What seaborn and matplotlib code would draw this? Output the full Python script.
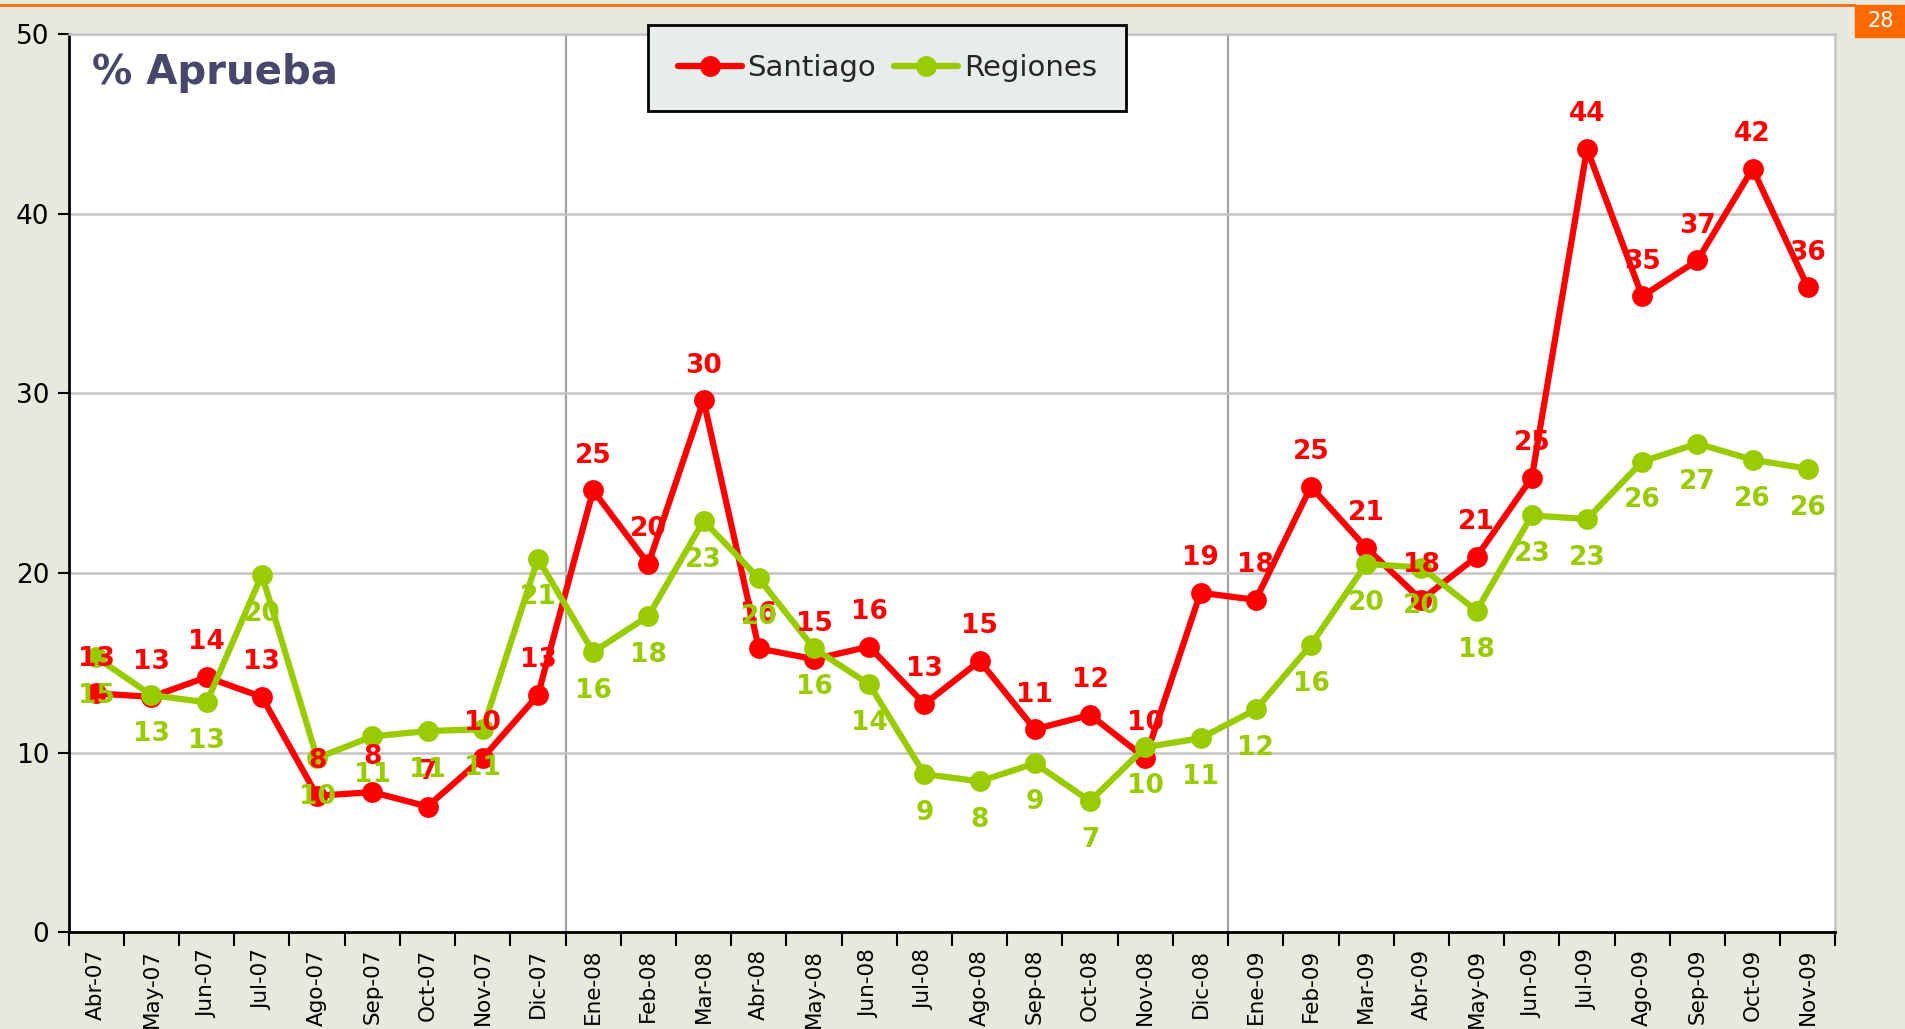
# encuesta: % aprueba, Santiago vs Regiones
import seaborn as sns
import pandas as pd
import matplotlib.pyplot as plotter
from matplotlib.lines import Line2D
from matplotlib.patches import Rectangle


meses = [
    "Abr-07", "May-07", "Jun-07", "Jul-07", "Ago-07", "Sep-07", "Oct-07",
    "Nov-07", "Dic-07", "Ene-08", "Feb-08", "Mar-08", "Abr-08", "May-08",
    "Jun-08", "Jul-08", "Ago-08", "Sep-08", "Oct-08", "Nov-08", "Dic-08",
    "Ene-09", "Feb-09", "Mar-09", "Abr-09", "May-09", "Jun-09", "Jul-09",
    "Ago-09", "Sep-09", "Oct-09", "Nov-09"
]

santiago = [
    13.3, 13.1, 14.2, 13.1, 7.6, 7.8, 7.0, 9.7, 13.2, 24.6, 20.5, 29.6,
    15.8, 15.2, 15.9, 12.7, 15.1, 11.3, 12.1, 9.7, 18.9, 18.5, 24.8, 21.4,
    18.5, 20.9, 25.3, 43.6, 35.4, 37.4, 42.5, 35.9
]

regiones = [
    15.3, 13.2, 12.8, 19.9, 9.7, 10.9, 11.2, 11.3, 20.8, 15.6, 17.6, 22.9,
    19.7, 15.8, 13.8, 8.8, 8.4, 9.4, 7.3, 10.3, 10.8, 12.4, 16.0, 20.5,
    20.3, 17.9, 23.2, 23.0, 26.2, 27.2, 26.3, 25.8
]

series = ["Santiago", "Regiones"]
colores = {"Santiago": "#FF0000", "Regiones": "#99CC00"}
fondo = "#E8E8DC"

y_ticks = [0, 10, 20, 30, 40, 50]


def armar_tabla() -> pd.DataFrame:
    filas = []
    for i, mes in enumerate(meses):
        filas.append({"pos": i, "mes": mes, "serie": "Santiago", "valor": santiago[i]})
        filas.append({"pos": i, "mes": mes, "serie": "Regiones", "valor": regiones[i]})
    return pd.DataFrame(filas)


datos = armar_tabla()

sns.set_theme(style="white")
plotter.rcParams['font.family'] = ['DejaVu Sans']

fig = plotter.figure(figsize=(19.06, 10.29), dpi=100, facecolor=fondo)
ax = fig.add_axes([0.036, 0.094, 0.927, 0.873])
ax.set_facecolor("white")

sns.lineplot(data=datos, x="pos", y="valor", hue="serie", hue_order=series,
             palette=colores, marker="o", markersize=15, linewidth=4.5,
             markeredgewidth=0, ax=ax, legend=True)

# etiquetas de datos: Santiago arriba, Regiones abajo
for i in range(len(meses)):
    ax.annotate(f"{santiago[i]:.0f}", (i, santiago[i]), xytext=(0, 25),
                textcoords="offset points", ha="center", va="center",
                color=colores["Santiago"], fontsize=19, fontweight="bold")
    ax.annotate(f"{regiones[i]:.0f}", (i, regiones[i]), xytext=(0, -28),
                textcoords="offset points", ha="center", va="center",
                color=colores["Regiones"], fontsize=19, fontweight="bold")

ax.set_xlim(-0.5, len(meses) - 0.5)
ax.set_ylim(0, 50)
ax.set_yticks(y_ticks)
ax.set_yticklabels([str(t) for t in y_ticks], fontsize=19, color="black")
ax.set_xticks(range(len(meses)))
ax.set_xticklabels(meses, rotation=90, fontsize=15.5, color="black")
ax.set_xticks([i - 0.5 for i in range(len(meses) + 1)], minor=True)
ax.tick_params(axis="x", which="major", length=0, pad=12)
ax.tick_params(axis="x", which="minor", length=10, width=1.5, color="black",
               direction="out", bottom=True)
ax.tick_params(axis="y", which="major", length=8, width=1.5, color="black",
               direction="out", left=True, pad=6)
ax.set_xlabel("")
ax.set_ylabel("")

ax.grid(axis="y", color="#C4C4C4", linewidth=1.8)
ax.set_axisbelow(True)
for corte in [8.5, 20.5]:
    ax.axvline(corte, color="#A0A0A0", linewidth=1.5, zorder=0)

ax.spines["left"].set_color("black")
ax.spines["left"].set_linewidth(2)
ax.spines["bottom"].set_color("black")
ax.spines["bottom"].set_linewidth(2)
ax.spines["top"].set_color("#C4C4C4")
ax.spines["top"].set_linewidth(1.8)
ax.spines["right"].set_color("#C4C4C4")
ax.spines["right"].set_linewidth(1.8)

ax.text(0.013, 0.957, "% Aprueba", transform=ax.transAxes, ha="left",
        va="center", fontsize=29, fontweight="bold", color="#47476B")

handles, labels = ax.get_legend_handles_labels()
leyenda = ax.legend(handles, labels, loc="center", ncol=2,
                    bbox_to_anchor=(0.4655, 0.934), bbox_transform=fig.transFigure,
                    fontsize=21, frameon=True, fancybox=False, framealpha=1,
                    facecolor="#E9ECEC", edgecolor="black", handlelength=2.2,
                    columnspacing=0.6, handletextpad=0.2, borderpad=1.0,
                    borderaxespad=0)
leyenda.get_frame().set_linewidth(2)
leyenda.set_zorder(10)

# franja naranja superior y numero de pagina
fig.add_artist(Line2D([0, 0.973], [0.995, 0.995], color="#FF6A00",
                      linewidth=2, transform=fig.transFigure))
fig.add_artist(Rectangle((0.973, 0.964), 0.027, 0.031, color="#FF6A00",
                         transform=fig.transFigure))
fig.text(0.9865, 0.9795, "28", ha="center", va="center", color="white",
         fontsize=15)

plotter.savefig("out.png", dpi=100, facecolor=fondo)
plotter.clf()
